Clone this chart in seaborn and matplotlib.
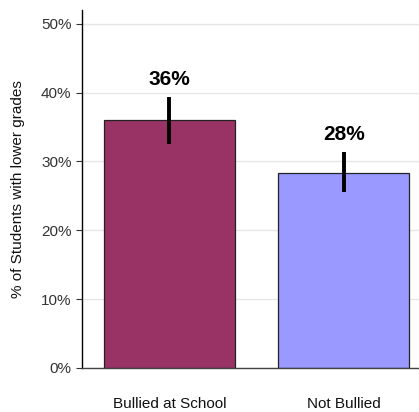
import matplotlib
matplotlib.use('Agg')
import matplotlib.pyplot as plt
import seaborn as sns
import pandas as pd

# ---------------------------------------------------------
# data
# ---------------------------------------------------------
groups = ['Bullied at School', 'Not Bullied']
pct_lower = [36.0, 28.3]
ci_low = [32.6, 25.5]
ci_high = [39.4, 31.3]
bar_labels = ['36%', '28%']
bar_colors = ['#993366', '#9999FF']
yticks = [0, 10, 20, 30, 40, 50]

df = pd.DataFrame({'group': groups, 'pct': pct_lower})

sns.set_style('white')
plt.rcParams['font.family'] = ['Liberation Sans', 'DejaVu Sans']

fig = plt.figure(figsize=(4.19, 4.12), dpi=100)
ax = fig.add_axes([0.1957, 0.1068, 0.8043, 0.869])

sns.barplot(data=df, x='group', y='pct', hue='group', palette=bar_colors,
            errorbar=None, width=0.75, saturation=1, edgecolor='#222222',
            linewidth=0.9, legend=False, ax=ax, zorder=2)

# error bars + value labels
for i, v in enumerate(pct_lower):
    ax.errorbar(i, v, yerr=[[v - ci_low[i]], [ci_high[i] - v]],
                fmt='none', ecolor='black', elinewidth=2.8, capsize=0, zorder=3)
    ax.text(i, ci_high[i] + 1.75, bar_labels[i], ha='center', va='baseline',
            fontsize=15, fontweight='bold', color='black')

ax.set_ylim(0, 52)
ax.set_xlim(-0.5, 1.43)
ax.set_yticks(yticks)
ax.set_yticklabels([f'{t}%' for t in yticks])
ax.grid(axis='y', color='#e6e6e6', linewidth=1.0, zorder=0)
ax.set_axisbelow(True)

ax.set_xlabel('')
ax.set_ylabel('% of Students with lower grades', fontsize=11, color='#111111')
ax.yaxis.set_label_coords(-0.169, 0.5)
ax.tick_params(axis='y', labelsize=11, colors='#333333', length=4, width=0.8, left=True)
ax.tick_params(axis='x', labelsize=11, colors='#111111', length=0, pad=21)

for side in ['top', 'right']:
    ax.spines[side].set_visible(False)
ax.spines['left'].set_color('black')
ax.spines['bottom'].set_color('#444444')
ax.spines['left'].set_linewidth(1.0)
ax.spines['bottom'].set_linewidth(1.0)

plt.savefig('out.png', dpi=100)
